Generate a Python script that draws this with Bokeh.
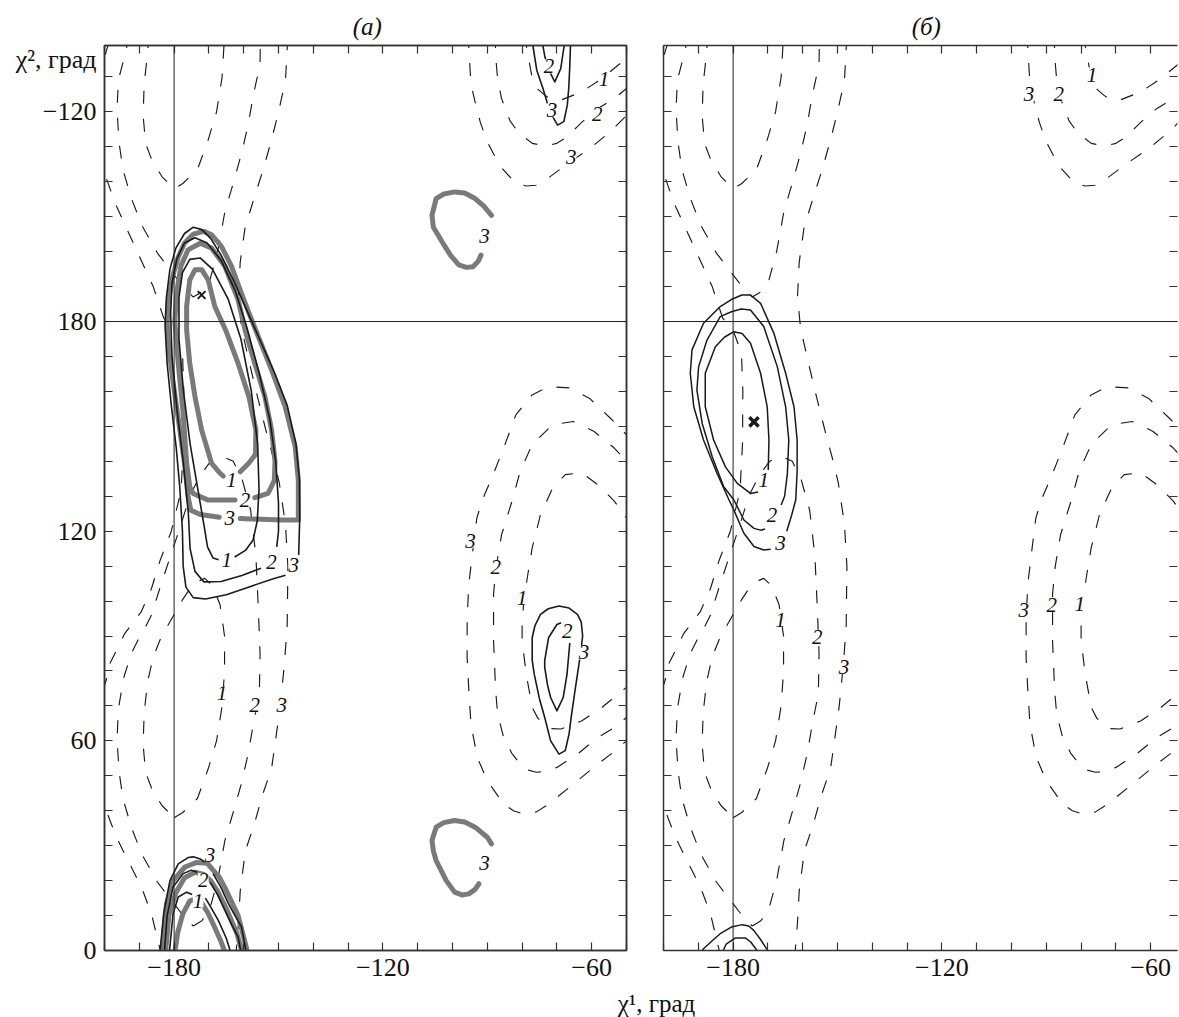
from bokeh.plotting import figure
from bokeh.models import ColumnDataSource, FixedTicker, LinearAxis, Span, LabelSet, Range1d
from bokeh.layouts import row, column
from bokeh.embed import file_html
from bokeh.resources import INLINE
from bokeh.core.properties import value

# ---------------- axes ----------------
X_TICKS = list(range(-200, -40, 10))
X_TICK_TEXT = {-180: "\u2212180", -120: "\u2212120", -60: "\u221260"}
Y_TICKS = list(range(0, 260, 10))
Y_TICK_TEXT = {0: "0", 60: "60", 120: "120", 180: "180", 240: "\u2212120"}
PANEL_TITLES = ["(\u0430)", "(\u0431)"]
TITLE_X = -124.5
Y_TITLE = "\u03c7\u00b2, \u0433\u0440\u0430\u0434"
Y_TITLE_Y = 255.0
X_TITLE = "\u03c7\u00b9, \u0433\u0440\u0430\u0434"

# ---------------- dashed contours (same map in both panels) ----------------
d1_lo_x = [-180.0, -177.5, -173.3, -170.2, -167.8, -166.2, -165.5, -165.5, -166.8, -169.0, -171.2, -173.5, -175.5, -177.5, -179.5, -181.8, -184.0, -186.0, -187.6, -188.6, -188.9, -188.2, -186.3, -183.5, -180.0]
d1_lo_y = [38.0, 39.5, 43.5, 52.0, 60.0, 70.0, 80.0, 90.0, 99.0, 104.5, 106.5, 105.5, 103.5, 100.5, 97.0, 93.0, 89.0, 84.0, 77.0, 68.0, 59.0, 51.0, 46.0, 41.5, 38.0]
d1_up_x = [-187.3, -187.6, -188.6, -188.9, -188.2, -186.3, -183.5, -180.0, -177.5, -173.3, -170.2, -167.8, -166.2, -165.5]
d1_up_y = [262.0, 257.0, 248.0, 239.0, 231.0, 226.0, 221.5, 218.0, 219.5, 223.5, 232.0, 240.0, 250.0, 262.0]
d2_lo_x = [-174.5, -172.0, -169.7, -167.5, -165.4, -163.0, -160.6, -158.7, -157.2, -155.5, -155.3, -155.8, -156.5, -158.0, -160.5, -163.0, -166.5, -169.5, -172.5, -175.5, -178.0, -181.0, -184.0, -186.5, -188.5, -190.4, -192.3, -194.5, -196.0, -196.4, -195.8, -194.7, -192.3, -189.2, -184.8, -180.5, -177.4, -174.5]
d2_lo_y = [7.0, 8.5, 12.0, 20.0, 31.5, 39.6, 48.0, 56.4, 65.0, 73.5, 85.0, 98.0, 113.0, 126.0, 135.0, 140.0, 141.5, 140.0, 136.0, 130.0, 122.0, 113.0, 104.0, 96.0, 92.0, 88.8, 85.0, 78.0, 69.2, 60.5, 51.1, 43.5, 35.3, 27.4, 19.6, 14.0, 10.0, 7.0]
d2_up_x = [-193.2, -193.7, -196.0, -196.4, -195.8, -194.7, -192.3, -189.2, -184.8, -180.5, -177.4, -174.5, -172.0, -169.7, -167.5, -165.4, -163.0, -160.6, -158.7, -157.2, -155.3, -155.2]
d2_up_y = [262.0, 257.8, 249.2, 240.5, 231.1, 223.5, 215.3, 207.4, 199.6, 194.0, 190.0, 187.0, 188.5, 191.9, 200.0, 211.5, 219.6, 228.2, 236.4, 245.0, 253.5, 262.0]
d3_left_x = [-183.5, -186.5, -189.4, -193.3, -196.6, -199.5, -202.0, -203.0, -202.0, -199.5, -198.5, -197.0, -194.2, -189.4, -186.5, -184.0, -180.8, -178.0, -177.3, -177.2, -177.6, -180.0, -183.0, -186.0, -190.4, -194.0, -197.0, -200.0, -202.5, -202.5, -199.5, -198.0]
d3_left_y = [-2.0, 10.5, 18.2, 25.8, 32.5, 40.0, 50.0, 60.0, 70.0, 77.4, 82.0, 85.0, 90.7, 97.0, 103.6, 111.7, 120.0, 131.6, 145.0, 160.0, 171.0, 177.5, 181.0, 190.0, 199.6, 207.4, 214.0, 222.5, 235.0, 245.0, 257.4, 262.0]
d3_right_x = [-162.3, -161.5, -161.0, -159.5, -157.0, -154.6, -152.0, -150.6, -149.5, -148.3, -147.5, -147.3, -148.0, -149.8, -151.5, -153.4, -155.8, -158.2, -160.6, -161.5, -161.0, -159.6, -156.8, -154.4, -152.0, -150.0, -148.0, -147.3]
d3_right_y = [-2.0, 8.0, 17.0, 28.6, 36.0, 44.5, 52.0, 62.0, 70.0, 82.0, 93.0, 110.0, 122.0, 134.0, 141.0, 148.0, 157.5, 167.5, 178.0, 187.0, 197.0, 207.0, 216.0, 223.5, 232.0, 240.0, 249.0, 262.0]
e3_lo_x = [-48.0, -50.0, -54.5, -58.2, -65.3, -72.4, -76.0, -79.4, -82.5, -85.3, -90.0, -92.9, -94.7, -95.3, -95.8, -95.8, -95.3, -94.1, -93.0, -91.2, -88.8, -85.3, -81.8, -77.1, -72.4, -66.5, -60.6, -54.7, -50.0, -48.0]
e3_lo_y = [61.5, 60.0, 56.2, 53.4, 47.6, 41.9, 39.6, 39.0, 40.0, 41.9, 48.6, 55.3, 64.8, 74.3, 83.8, 95.0, 105.0, 115.0, 123.8, 129.5, 135.0, 143.8, 153.3, 159.0, 161.4, 161.0, 158.0, 152.4, 147.6, 145.5]
e2_lo_x = [-48.0, -50.0, -53.5, -58.2, -64.1, -70.0, -73.0, -75.9, -78.5, -80.6, -83.0, -85.3, -87.0, -87.6, -88.2, -88.2, -87.5, -85.9, -82.9, -80.6, -77.1, -71.2, -65.3, -59.4, -53.5, -50.0, -48.0]
e2_lo_y = [68.5, 66.7, 63.8, 61.0, 56.2, 52.4, 51.3, 51.0, 51.7, 53.4, 56.5, 61.0, 67.5, 74.3, 88.6, 102.0, 109.5, 119.0, 128.6, 137.0, 144.8, 150.5, 151.4, 148.6, 143.8, 140.0, 137.5]
e1_lo_x = [-48.0, -50.0, -53.5, -57.0, -62.9, -68.8, -71.5, -73.5, -75.5, -77.1, -78.8, -80.0, -80.0, -79.4, -78.2, -77.1, -74.7, -71.2, -67.6, -62.9, -58.2, -53.5, -50.0, -48.0]
e1_lo_y = [77.0, 75.3, 72.5, 69.6, 65.7, 63.4, 63.5, 64.8, 66.5, 69.6, 79.0, 88.6, 94.0, 101.0, 108.6, 115.2, 124.8, 132.4, 136.2, 136.7, 133.3, 128.6, 123.8, 121.0]
e3_up_x = [-95.4, -95.3, -94.7, -93.5, -92.0, -90.0, -86.5, -81.8, -78.8, -76.0, -73.5, -67.6, -60.6, -54.7, -50.0, -48.0]
e3_up_y = [262.0, 258.0, 248.0, 242.8, 237.0, 231.4, 224.7, 219.5, 218.8, 219.0, 220.3, 224.7, 229.5, 234.3, 239.0, 241.0]
e2_up_x = [-87.7, -87.6, -87.0, -85.9, -83.5, -81.0, -77.1, -74.0, -72.0, -70.0, -67.6, -64.1, -62.9, -58.2, -53.5, -50.0, -48.0]
e2_up_y = [262.0, 256.0, 249.0, 243.8, 237.5, 234.0, 231.0, 230.4, 230.5, 231.0, 232.5, 235.8, 237.0, 241.0, 243.8, 246.7, 248.5]
e1_up_x = [-79.2, -78.8, -77.1, -75.5, -73.5, -71.5, -68.8, -62.9, -57.0, -53.5, -50.0, -48.0]
e1_up_y = [262.0, 259.0, 249.6, 246.5, 244.8, 243.5, 243.4, 245.7, 249.6, 252.5, 255.3, 257.0]

# ---------------- panel (a): solid black contours ----------------
a_b3_x = [-144.2, -143.9, -144.0, -145.0, -147.5, -151.0, -155.0, -159.0, -163.0, -166.5, -169.5, -172.0, -174.5, -177.0, -179.5, -181.2, -182.2, -182.6, -182.0, -180.8, -179.4, -178.4, -177.6, -177.4, -176.6, -174.5, -171.0, -165.0, -158.0, -151.5, -148.0]
a_b3_y = [113.2, 124.0, 135.0, 145.0, 156.0, 165.0, 174.0, 183.0, 192.0, 199.0, 203.8, 206.3, 207.0, 205.2, 201.0, 195.0, 187.0, 179.0, 168.0, 156.0, 144.0, 133.0, 120.0, 110.0, 104.0, 101.0, 100.6, 101.8, 104.2, 106.4, 107.4]
a_b2_x = [-150.5, -150.0, -150.0, -150.8, -152.5, -155.5, -159.0, -162.5, -166.5, -170.5, -174.0, -177.0, -179.2, -180.6, -181.0, -180.6, -179.2, -177.4, -175.9, -175.4, -174.0, -171.5, -166.5, -160.5, -155.0]
a_b2_y = [115.5, 120.0, 128.0, 140.0, 152.0, 165.0, 178.0, 189.0, 197.5, 202.5, 204.0, 202.5, 198.0, 191.0, 182.0, 170.0, 155.0, 140.0, 125.0, 115.0, 108.5, 105.5, 105.6, 107.3, 109.4]
a_b1_x = [-162.6, -159.5, -157.3, -156.1, -155.6, -156.0, -157.8, -160.8, -164.5, -169.0, -172.5, -175.5, -177.6, -178.6, -178.6, -177.3, -175.4, -173.0, -171.3, -170.4, -168.8, -167.2]
a_b1_y = [112.6, 114.5, 117.5, 123.0, 132.0, 145.0, 160.0, 175.0, 186.5, 195.0, 198.2, 197.8, 194.0, 187.0, 175.0, 160.0, 145.0, 131.0, 121.0, 115.5, 112.3, 111.8]
a_b3_lo_x = [-184.2, -183.0, -181.2, -178.8, -176.0, -174.5, -172.5, -171.2]
a_b3_lo_y = [-2.0, 10.5, 20.0, 24.8, 26.6, 26.8, 26.2, 25.3]
a_b3_lo2_x = [-168.8, -166.5, -164.4, -162.5, -160.6, -159.0]
a_b3_lo2_y = [22.0, 18.0, 13.4, 10.0, 6.7, -2.0]
a_b2_lo_x = [-182.9, -182.0, -180.3, -177.4, -175.0, -173.4]
a_b2_lo_y = [-2.0, 10.0, 18.2, 22.0, 23.0, 22.4]
a_b2_lo2_x = [-169.6, -167.5, -165.4, -163.5, -161.6, -160.5]
a_b2_lo2_y = [19.5, 16.0, 11.5, 7.5, 3.8, -2.0]
a_b1_lo_x = [-181.5, -180.3, -178.8, -176.4, -174.8]
a_b1_lo_y = [-2.0, 10.5, 15.3, 16.7, 16.0]
a_b1_lo2_x = [-171.0, -169.5, -167.3, -165.0, -163.3]
a_b1_lo2_y = [15.0, 12.5, 8.6, 3.5, -2.0]
a_r3_x = [-69.4, -72.5, -74.7, -76.3, -77.1, -77.1, -76.5, -75.0, -73.5, -71.8, -69.4, -67.6, -66.5, -65.9, -65.0, -64.1, -63.2, -62.6, -63.0, -64.1, -66.5, -69.4]
a_r3_y = [98.6, 97.8, 96.2, 93.0, 89.5, 83.0, 79.0, 72.0, 66.7, 60.0, 56.2, 57.2, 62.0, 66.7, 73.0, 79.0, 85.0, 90.0, 94.0, 96.2, 98.0, 98.6]
a_r2_x = [-68.8, -70.0, -72.4, -73.5, -73.5, -72.7, -71.8, -70.0, -68.2, -67.1, -66.5, -66.3]
a_r2_y = [93.8, 93.3, 89.5, 83.0, 81.0, 76.0, 72.4, 68.6, 72.4, 79.0, 85.7, 88.0]
a_r3_up_x = [-77.4, -76.9, -75.8, -74.0, -72.0, -69.8, -68.0, -67.0, -66.6, -66.3, -66.0]
a_r3_up_y = [262.0, 259.0, 252.0, 246.7, 240.0, 236.2, 237.2, 242.0, 246.7, 253.0, 262.0]
a_r2_up_x = [-74.6, -74.4, -73.5, -72.5, -70.6, -68.9, -67.9, -67.6]
a_r2_up_y = [262.0, 261.0, 256.0, 252.4, 248.6, 252.4, 259.0, 262.0]

# ---------------- panel (a): grey contours ----------------
a_g3_x = [-161.0, -155.0, -149.0, -144.3, -144.3, -145.2, -148.1, -152.0, -155.8, -158.5, -161.0, -163.5, -166.4, -169.2, -171.5, -174.5, -177.0, -178.8, -180.4, -181.6, -182.0, -181.5, -180.2, -178.5, -177.0, -176.0, -175.2, -172.5, -167.0]
a_g3_y = [123.6, 123.4, 123.2, 123.2, 134.6, 144.2, 155.7, 166.2, 175.7, 182.5, 189.0, 195.8, 201.5, 204.8, 205.8, 205.0, 202.5, 198.5, 193.0, 186.0, 180.0, 172.0, 162.0, 150.0, 139.5, 129.9, 126.0, 124.8, 124.0]
a_g2_x = [-156.8, -153.0, -151.2, -151.0, -152.0, -153.9, -156.8, -159.6, -161.6, -165.4, -169.2, -172.5, -176.0, -178.0, -179.3, -179.8, -178.8, -177.4, -176.4, -175.5, -174.5, -170.2, -162.5]
a_g2_y = [129.6, 130.8, 134.5, 140.0, 149.0, 158.5, 168.0, 177.6, 186.2, 195.8, 201.0, 202.4, 200.5, 196.0, 188.1, 180.0, 168.0, 153.8, 139.5, 132.7, 130.8, 128.9, 128.9]
a_g1_x = [-161.0, -158.5, -156.6, -156.5, -158.5, -161.6, -165.2, -168.3, -170.2, -172.0, -174.0, -175.5, -176.4, -176.4, -175.5, -174.0, -172.1, -169.2, -167.0, -165.9]
a_g1_y = [137.0, 139.5, 142.0, 149.0, 158.5, 168.0, 177.6, 184.3, 191.9, 194.8, 194.8, 191.9, 184.3, 177.6, 168.0, 158.5, 149.0, 139.4, 136.8, 135.8]
a_g3_lo_x = [-183.6, -182.2, -180.3, -176.9, -173.5, -170.5, -168.8, -167.0, -165.4, -161.6, -158.5]
a_g3_lo_y = [-2.0, 13.4, 20.0, 23.9, 25.2, 25.0, 23.0, 21.0, 18.0, 10.0, -2.0]
a_g2_lo_x = [-182.6, -181.5, -179.5, -177.0, -174.0, -171.5, -169.5, -167.5, -165.0, -162.0, -160.0]
a_g2_lo_y = [-2.0, 10.0, 16.5, 20.8, 22.4, 21.8, 20.0, 17.0, 12.0, 5.0, -2.0]
a_g1_lo_x = [-180.0, -179.0, -177.5, -175.5, -173.5, -172.0, -170.3, -168.5, -166.5, -164.8]
a_g1_lo_y = [-2.0, 5.0, 10.5, 14.2, 14.8, 13.5, 10.8, 7.0, 2.5, -2.0]
a_gc_up_x = [-88.8, -91.0, -93.5, -96.5, -99.4, -102.5, -104.7, -105.9, -105.5, -104.1, -102.5, -100.6, -98.2, -96.0, -94.1, -92.6, -91.8]
a_gc_up_y = [210.4, 213.0, 215.2, 216.8, 217.1, 216.5, 215.2, 210.4, 207.0, 204.7, 202.0, 199.0, 196.2, 195.5, 195.7, 197.3, 199.0]
a_gc_lo_x = [-88.8, -90.0, -93.5, -96.5, -99.4, -102.5, -104.7, -105.9, -105.5, -104.7, -103.2, -101.8, -99.4, -97.3, -95.3, -93.5, -92.4]
a_gc_lo_y = [30.5, 32.4, 35.3, 36.8, 37.2, 36.6, 35.3, 31.5, 28.5, 25.7, 22.8, 20.0, 16.7, 15.9, 16.2, 17.5, 19.1]

# ---------------- panel (b): solid black contours ----------------
b_s3_x = [-164.6, -163.2, -162.0, -161.6, -161.6, -162.5, -164.9, -168.3, -172.1, -175.0, -177.5, -180.5, -183.7, -188.5, -191.8, -192.3, -191.3, -188.5, -184.6, -181.2, -179.8, -176.9, -174.0, -171.2, -169.2]
b_s3_y = [120.0, 124.5, 129.0, 137.0, 146.1, 155.6, 165.2, 176.7, 185.2, 187.6, 187.6, 186.3, 184.3, 179.5, 171.9, 165.2, 155.6, 146.1, 136.5, 129.0, 126.1, 119.4, 115.6, 114.6, 114.8]
b_s2_x = [-166.2, -165.2, -164.4, -164.0, -164.9, -167.3, -171.2, -175.0, -177.7, -180.5, -183.7, -187.5, -189.9, -190.4, -188.9, -186.0, -182.7, -179.8, -176.9, -174.0, -172.1, -170.8]
b_s2_y = [127.5, 130.0, 136.5, 146.1, 155.6, 167.1, 178.6, 183.3, 183.6, 182.8, 181.4, 174.7, 167.1, 160.4, 150.9, 141.3, 132.7, 129.0, 123.2, 120.8, 120.3, 120.6]
b_s1_x = [-169.9, -169.7, -170.2, -172.1, -175.0, -177.4, -179.8, -182.5, -185.1, -188.0, -188.0, -185.6, -182.2, -178.8, -175.0, -172.8]
b_s1_y = [137.5, 146.1, 155.6, 165.2, 173.8, 176.6, 177.1, 175.5, 172.8, 165.2, 155.6, 146.1, 138.4, 133.7, 130.8, 131.2]
b_s3_lo_x = [-190.0, -188.5, -186.0, -183.7, -180.5, -177.4, -175.5, -174.0, -172.0, -170.2, -169.5]
b_s3_lo_y = [-2.0, 0.5, 2.8, 4.8, 6.7, 7.4, 7.0, 5.7, 3.0, 0.2, -2.0]
b_s2_lo_x = [-183.8, -182.0, -179.3, -176.5, -175.0, -173.1, -172.5]
b_s2_lo_y = [-2.0, 1.8, 3.6, 3.6, 2.5, 0.0, -2.0]

# ---------------- minima markers ----------------
a_min_x = [-172.1]
a_min_y = [187.6]
b_min_x = [-174.0]
b_min_y = [151.3]

# ---------------- contour level labels ----------------
a_lab_text = ["1", "2", "3", "3", "2", "1", "1", "2", "3",
              "1", "2", "3", "2", "3", "2", "3", "3", "2", "1",
              "1", "2", "3", "3", "3"]
a_lab_x = [-166.2, -156.8, -149.1, -94.8, -87.6, -80.0, -56.5, -58.4, -65.9,
           -164.9, -152.0, -145.6, -67.0, -62.2, -72.3, -71.4, -169.7, -171.6, -173.1,
           -163.5, -159.6, -164.0, -90.8, -90.8]
a_lab_y = [73.6, 70.2, 70.2, 117.3, 109.8, 101.0, 249.3, 239.3, 227.2,
           111.7, 111.3, 110.3, 91.4, 85.3, 253.0, 240.5, 27.4, 20.2, 14.3,
           134.6, 128.9, 123.7, 204.5, 25.0]
b_lab_text = ["3", "2", "1", "1", "2", "3", "3", "2", "1", "1", "2", "3"]
b_lab_x = [-95.0, -86.4, -76.9, -166.4, -155.8, -148.1, -96.5, -88.4, -80.4, -171.2, -168.8, -166.4]
b_lab_y = [245.0, 245.0, 250.7, 94.6, 89.8, 81.2, 97.4, 98.8, 99.3, 134.7, 124.6, 116.5]

SERIF = "Liberation Serif"
INK = "#1a1a1a"
GREY = "#7a7a7a"

DASHED = [(d1_lo_x, d1_lo_y), (d1_up_x, d1_up_y), (d2_lo_x, d2_lo_y), (d2_up_x, d2_up_y),
          (d3_left_x, d3_left_y), (d3_right_x, d3_right_y),
          (e3_lo_x, e3_lo_y), (e2_lo_x, e2_lo_y), (e1_lo_x, e1_lo_y),
          (e3_up_x, e3_up_y), (e2_up_x, e2_up_y), (e1_up_x, e1_up_y)]
A_SOLID = [(a_b3_x, a_b3_y), (a_b2_x, a_b2_y), (a_b1_x, a_b1_y),
           (a_b3_lo_x, a_b3_lo_y), (a_b3_lo2_x, a_b3_lo2_y), (a_b2_lo_x, a_b2_lo_y),
           (a_b2_lo2_x, a_b2_lo2_y), (a_b1_lo_x, a_b1_lo_y), (a_b1_lo2_x, a_b1_lo2_y),
           (a_r3_x, a_r3_y), (a_r2_x, a_r2_y), (a_r3_up_x, a_r3_up_y), (a_r2_up_x, a_r2_up_y)]
A_GREY = [(a_g3_x, a_g3_y), (a_g2_x, a_g2_y), (a_g1_x, a_g1_y),
          (a_g3_lo_x, a_g3_lo_y), (a_g2_lo_x, a_g2_lo_y), (a_g1_lo_x, a_g1_lo_y),
          (a_gc_up_x, a_gc_up_y), (a_gc_lo_x, a_gc_lo_y)]
B_SOLID = [(b_s3_x, b_s3_y), (b_s2_x, b_s2_y), (b_s1_x, b_s1_y),
           (b_s3_lo_x, b_s3_lo_y), (b_s2_lo_x, b_s2_lo_y)]

FRAME_H = 905
BORDER_TOP = 45
BORDER_BOTTOM = 38


def style_axis(ax, major, minor, texts, size):
    ax.ticker = FixedTicker(ticks=major, minor_ticks=minor)
    ax.major_label_overrides = {t: texts.get(t, "") for t in major}
    ax.major_tick_in = 8 if not minor else 0
    ax.major_tick_out = 0
    ax.minor_tick_in = 8 if minor else 0
    ax.minor_tick_out = 0
    ax.major_tick_line_width = 1.2
    ax.minor_tick_line_width = 1.2
    ax.major_tick_line_color = "#333333"
    ax.minor_tick_line_color = "#333333"
    ax.axis_line_width = 1.5
    ax.axis_line_color = "#333333"
    ax.major_label_text_font = SERIF
    ax.major_label_text_font_size = size
    ax.major_label_text_color = "#111111"


def make_panel(x_end, frame_w, show_y, border_left, border_right, right_line, title):
    p = figure(x_range=Range1d(-200, x_end), y_range=Range1d(0, 259),
               frame_width=frame_w, frame_height=FRAME_H,
               min_border_left=border_left, min_border_right=border_right,
               min_border_top=BORDER_TOP, min_border_bottom=BORDER_BOTTOM,
               toolbar_location=None, output_backend="svg")
    p.grid.visible = False
    p.background_fill_color = "white"
    p.outline_line_color = "#333333" if right_line else None
    p.outline_line_width = 1.5
    # bottom axis: ticks every 10 degrees, labels every 60
    style_axis(p.xaxis[0], X_TICKS, [], X_TICK_TEXT, "26px")
    p.xaxis[0].major_label_standoff = 8
    # left axis: labelled positions as major ticks, 10-degree marks as minor ticks
    if show_y:
        texts = dict(Y_TICK_TEXT)
        texts[Y_TITLE_Y] = Y_TITLE
        style_axis(p.yaxis[0], sorted(texts.keys()), Y_TICKS, texts, "26px")
        p.yaxis[0].major_label_standoff = 8
    else:
        style_axis(p.yaxis[0], Y_TICKS, [], {}, "0px")
        p.yaxis[0].major_label_standoff = 0
    # top axis carries the panel letter
    top = LinearAxis()
    style_axis(top, [TITLE_X], X_TICKS, {TITLE_X: title}, "25px")
    top.major_label_text_font_style = "italic"
    top.major_label_standoff = 6
    p.add_layout(top, "above")
    right = LinearAxis()
    style_axis(right, Y_TICKS, [], {}, "0px")
    right.major_label_standoff = 0
    if not right_line:
        right.axis_line_color = None
    p.add_layout(right, "right")
    p.add_layout(Span(location=-180, dimension="height", line_color="#222222", line_width=1))
    p.add_layout(Span(location=180, dimension="width", line_color="#222222", line_width=1))
    p.multi_line(xs=[c[0] for c in DASHED], ys=[c[1] for c in DASHED],
                 line_color=INK, line_width=1.15, line_dash="13 15")
    return p


def add_labels(p, xs, ys, texts):
    src = ColumnDataSource(dict(x=xs, y=ys, text=texts))
    p.add_layout(LabelSet(x="x", y="y", text="text", source=src,
                          text_align="center", text_baseline="middle",
                          text_font=value(SERIF), text_font_style="italic",
                          text_font_size="21px", text_color="#111111",
                          background_fill_color="white"))


# ---------------- panel (a) ----------------
pa = make_panel(-50, 522, True, 104, 4, True, PANEL_TITLES[0])
pa.multi_line(xs=[c[0] for c in A_GREY], ys=[c[1] for c in A_GREY],
              line_color=GREY, line_width=5, line_join="round", line_cap="round")
pa.multi_line(xs=[c[0] for c in A_SOLID], ys=[c[1] for c in A_SOLID],
              line_color=INK, line_width=1.6, line_join="round")
pa.scatter(a_min_x, a_min_y, marker="x", size=11, line_width=2, line_color=INK)
add_labels(pa, a_lab_x, a_lab_y, a_lab_text)

# ---------------- panel (b) ----------------
pb = make_panel(-52.3, 514, False, 33, 2, False, PANEL_TITLES[1])
pb.multi_line(xs=[c[0] for c in B_SOLID], ys=[c[1] for c in B_SOLID],
              line_color=INK, line_width=1.5, line_join="round")
pb.scatter(b_min_x, b_min_y, marker="x", size=13, line_width=3.5, line_color=INK)
add_labels(pb, b_lab_x, b_lab_y, b_lab_text)

# ---------------- common x title strip ----------------
strip_w = 1179
strip_h = 1017 - BORDER_TOP - FRAME_H - BORDER_BOTTOM
px_ = figure(width=strip_w, height=strip_h, x_range=Range1d(0, strip_w), y_range=Range1d(0, strip_h),
             toolbar_location=None, output_backend="svg",
             min_border_left=0, min_border_right=0, min_border_top=0, min_border_bottom=0)
px_.axis.visible = False
px_.grid.visible = False
px_.outline_line_color = None
px_.text(x=[656], y=[strip_h / 2], text=[X_TITLE], text_align="center", text_baseline="middle",
         text_font=value(SERIF), text_font_size="25px", text_color="#111111")

layout = column(row(pa, pb), px_)
open("out.html", "w").write(file_html(layout, INLINE))
